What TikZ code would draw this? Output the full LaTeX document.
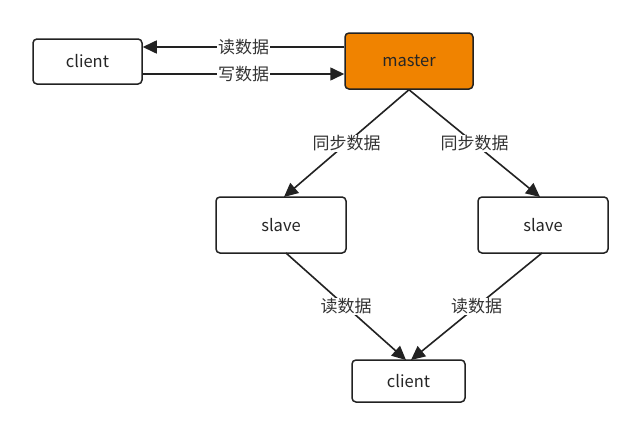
\documentclass[tikz,border=0pt]{standalone}
\usepackage{fontspec}
\setmainfont{Noto Sans CJK SC}
\usetikzlibrary{arrows.meta}
\definecolor{masterorange}{HTML}{F08300}
\definecolor{linegray}{HTML}{222222}
\begin{document}
\begin{tikzpicture}[x=1pt,y=-1pt,
  box/.style={draw=linegray,line width=1.5pt,rounded corners=4pt,fill=white,
    font=\fontsize{16.5}{19}\selectfont,inner sep=0pt,text=black!85},
  conn/.style={draw=linegray,line width=1.6pt,-{Triangle[length=14pt,width=13pt]}},
  lbl/.style={fill=white,inner sep=1pt,font=\fontsize{17}{19}\selectfont,text=black!80}]
\useasboundingbox (0,0) rectangle (640,431);
\fill[white] (0,0) rectangle (640,431);
\node[box,minimum width=109pt,minimum height=45pt] (c1) at (87.5,61.5) {client};
\node[box,fill=masterorange,minimum width=128pt,minimum height=56pt] (m) at (409,61) {master};
\node[box,minimum width=130pt,minimum height=56pt] (s1) at (281,225) {slave};
\node[box,minimum width=130pt,minimum height=56pt] (s2) at (543,225) {slave};
\node[box,minimum width=113pt,minimum height=42pt] (c2) at (408.5,381) {client};
\coordinate (mL1) at (345,47);
\coordinate (cR1) at (142,47);
\coordinate (cR2) at (142,74);
\coordinate (mL2) at (345,74);
\draw[conn] (m.west |- mL1) -- node[lbl]{读数据} (c1.east |- cR1);
\draw[conn] (c1.east |- cR2) -- node[lbl]{写数据} (m.west |- mL2);
\coordinate (s1t) at (284,197);
\coordinate (s2t) at (540,197);
\draw[conn] (m.south) -- node[lbl,pos=0.5]{同步数据} (s1t);
\draw[conn] (m.south) -- node[lbl,pos=0.5]{同步数据} (s2t);
\coordinate (s1b) at (286,253);
\coordinate (s2b) at (542,253);
\coordinate (c2a) at (406,360);
\coordinate (c2b) at (411,360);
\draw[conn] (s1b) -- node[lbl,pos=0.5]{读数据} (c2a);
\draw[conn] (s2b) -- node[lbl,pos=0.5]{读数据} (c2b);
\end{tikzpicture}
\end{document}
